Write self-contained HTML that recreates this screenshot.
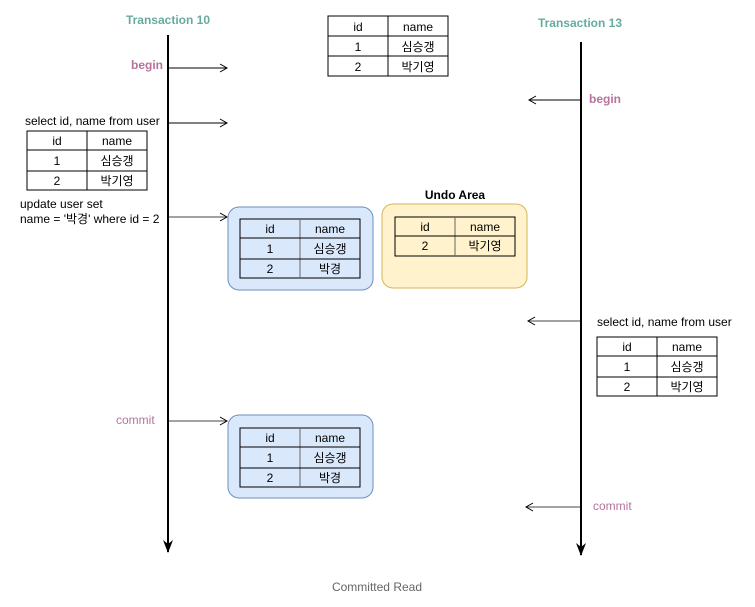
<!DOCTYPE html>
<html><head><meta charset="utf-8"><style>
html,body{margin:0;padding:0;background:#fff;}
svg{display:block;}
text{font-family:"Liberation Sans","Noto Sans CJK KR","NanumGothic",sans-serif;font-size:12px;fill:#000;}
.t{text-anchor:middle;}
.tt{font-weight:bold;fill:#67AB9F;font-size:12px;}
.lb{font-weight:bold;fill:#B5739D;}
.cm{fill:#B5739D;}
.cell{fill:none;stroke:#000;stroke-width:1;}
</style></head><body>
<svg width="755" height="607" viewBox="0 0 755 607" xmlns="http://www.w3.org/2000/svg">
<defs>
<marker id="ah" markerWidth="10" markerHeight="10" refX="8" refY="5" orient="auto" markerUnits="userSpaceOnUse"><path d="M1,1 L8,5 L1,9" fill="none" stroke="#000" stroke-width="1"/></marker>
<marker id="big" markerWidth="12" markerHeight="14" refX="6" refY="13" orient="0" markerUnits="userSpaceOnUse"><path d="M1,1 L6,13 L11,1 L6,5 Z" fill="#000"/></marker>
</defs>

<!-- titles -->
<text class="tt t" x="168" y="24">Transaction 10</text>
<text class="tt t" x="580" y="27">Transaction 13</text>

<!-- timelines -->
<line x1="168" y1="35" x2="168" y2="552" stroke="#000" stroke-width="2"/>
<path d="M163,540 L168,553 L173,540 L168,544 Z" fill="#000"/>
<line x1="581" y1="42" x2="581" y2="555" stroke="#000" stroke-width="2"/>
<path d="M576,543 L581,556 L586,543 L581,547 Z" fill="#000"/>

<!-- arrows T10 -->
<line x1="169" y1="68" x2="227" y2="68" stroke="#000" marker-end="url(#ah)"/>
<line x1="169" y1="123" x2="227" y2="123" stroke="#000" marker-end="url(#ah)"/>
<line x1="169" y1="217" x2="227" y2="217" stroke="#444" marker-end="url(#ah)"/>
<line x1="169" y1="421" x2="227" y2="421" stroke="#444" marker-end="url(#ah)"/>
<!-- arrows T13 -->
<line x1="580" y1="100" x2="529" y2="100" stroke="#000" marker-end="url(#ah)"/>
<line x1="580" y1="321" x2="528" y2="321" stroke="#444" marker-end="url(#ah)"/>
<line x1="580" y1="507" x2="526" y2="507" stroke="#444" marker-end="url(#ah)"/>

<!-- labels -->
<text class="lb" x="131" y="69">begin</text>
<text class="lb" x="589" y="103">begin</text>
<text class="cm" x="116" y="424">commit</text>
<text class="cm" x="593" y="510">commit</text>
<text x="25" y="125">select id, name from user</text>
<text x="20" y="208">update user set</text>
<text x="20" y="223">name = '박경' where id = 2</text>
<text x="597" y="326">select id, name from user</text>
<text class="t" x="377" y="591" style="fill:#666">Committed Read</text>
<text class="t" x="455" y="199" style="font-weight:bold">Undo Area</text>

<!-- boxes -->
<rect x="228" y="207" width="145" height="83" rx="11" fill="#DAE8FC" stroke="#6C8EBF"/>
<rect x="382" y="204" width="145" height="84" rx="11" fill="#FFF2CC" stroke="#D6B656"/>
<rect x="228" y="415" width="145" height="83" rx="11" fill="#DAE8FC" stroke="#6C8EBF"/>

<!-- top table -->
<g>
<rect x="328" y="16" width="120" height="60" fill="#fff" class="cell"/>
<line x1="388" y1="16" x2="388" y2="76" stroke="#000"/>
<line x1="328" y1="36" x2="448" y2="36" stroke="#000"/>
<line x1="328" y1="56" x2="448" y2="56" stroke="#000"/>
<text class="t" x="358" y="31">id</text><text class="t" x="418" y="31">name</text>
<text class="t" x="358" y="51">1</text><text class="t" x="418" y="51">심승갱</text>
<text class="t" x="358" y="71">2</text><text class="t" x="418" y="71">박기영</text>
</g>

<!-- left table -->
<g>
<rect x="27" y="131" width="120" height="59" fill="#fff" class="cell"/>
<line x1="87" y1="131" x2="87" y2="190" stroke="#000"/>
<line x1="27" y1="150" x2="147" y2="150" stroke="#000"/>
<line x1="27" y1="171" x2="147" y2="171" stroke="#000"/>
<text class="t" x="57" y="145">id</text><text class="t" x="117" y="145">name</text>
<text class="t" x="57" y="165">1</text><text class="t" x="117" y="165">심승갱</text>
<text class="t" x="57" y="185">2</text><text class="t" x="117" y="185">박기영</text>
</g>

<!-- blue table 1 -->
<g>
<rect x="240" y="219" width="120" height="59" fill="#fff" class="cell"/>
<line x1="300" y1="219" x2="300" y2="278" stroke="#666"/>
<line x1="240" y1="238" x2="360" y2="238" stroke="#000"/>
<line x1="240" y1="259" x2="360" y2="259" stroke="#000"/>
<text class="t" x="270" y="233">id</text><text class="t" x="330" y="233">name</text>
<text class="t" x="270" y="253">1</text><text class="t" x="330" y="253">심승갱</text>
<text class="t" x="270" y="273">2</text><text class="t" x="330" y="273">박경</text>
</g>

<!-- undo table -->
<g>
<rect x="395" y="217" width="120" height="39" fill="#fff" class="cell"/>
<line x1="455" y1="217" x2="455" y2="256" stroke="#666"/>
<line x1="395" y1="236" x2="515" y2="236" stroke="#000"/>
<text class="t" x="425" y="231">id</text><text class="t" x="485" y="231">name</text>
<text class="t" x="425" y="250">2</text><text class="t" x="485" y="250">박기영</text>
</g>

<!-- right table -->
<g>
<rect x="597" y="337" width="120" height="59" fill="#fff" class="cell"/>
<line x1="657" y1="337" x2="657" y2="396" stroke="#000"/>
<line x1="597" y1="356" x2="717" y2="356" stroke="#000"/>
<line x1="597" y1="377" x2="717" y2="377" stroke="#000"/>
<text class="t" x="627" y="351">id</text><text class="t" x="687" y="351">name</text>
<text class="t" x="627" y="371">1</text><text class="t" x="687" y="371">심승갱</text>
<text class="t" x="627" y="391">2</text><text class="t" x="687" y="391">박기영</text>
</g>

<!-- blue table 2 -->
<g>
<rect x="240" y="428" width="120" height="59" fill="#fff" class="cell"/>
<line x1="300" y1="428" x2="300" y2="487" stroke="#666"/>
<line x1="240" y1="447" x2="360" y2="447" stroke="#000"/>
<line x1="240" y1="468" x2="360" y2="468" stroke="#000"/>
<text class="t" x="270" y="442">id</text><text class="t" x="330" y="442">name</text>
<text class="t" x="270" y="462">1</text><text class="t" x="330" y="462">심승갱</text>
<text class="t" x="270" y="482">2</text><text class="t" x="330" y="482">박경</text>
</g>
</svg>
</body></html>
